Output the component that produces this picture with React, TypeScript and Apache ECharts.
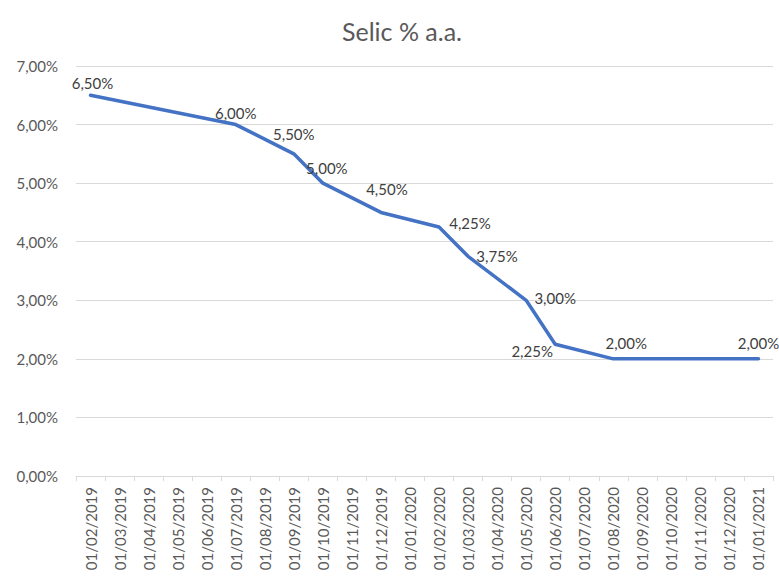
import React, { useEffect, useRef } from "react";
import * as echarts from "echarts";

const categories = [
  "01/02/2019", "01/03/2019", "01/04/2019", "01/05/2019", "01/06/2019", "01/07/2019",
  "01/08/2019", "01/09/2019", "01/10/2019", "01/11/2019", "01/12/2019", "01/01/2020",
  "01/02/2020", "01/03/2020", "01/04/2020", "01/05/2020", "01/06/2020", "01/07/2020",
  "01/08/2020", "01/09/2020", "01/10/2020", "01/11/2020", "01/12/2020", "01/01/2021",
];

const selic: (number | null)[] = [
  6.5, null, null, null, null, 6.0,
  null, 5.5, 5.0, null, 4.5, null,
  4.25, 3.75, null, 3.0, 2.25, null,
  2.0, null, null, null, null, 2.0,
];

// label offsets (px) from each point, keyed by category index
const labelOffsets: Record<number, [number, number]> = {
  0: [2, -12],
  5: [0, -12],
  7: [0, -20],
  8: [4, -15],
  10: [6, -23],
  12: [31, -4],
  13: [29, 0],
  15: [29, -2],
  16: [-23, 7],
  18: [13, -16],
  23: [0, -16],
};

const fmt = (v: number) => v.toFixed(2).replace(".", ",") + "%";
const FONT = "Lato";

export default function App() {
  const ref = useRef<HTMLDivElement>(null);
  useEffect(() => {
    if (!ref.current) return;
    const chart = echarts.init(ref.current, undefined, { renderer: "svg" });
    const data = selic.map((v, i) => {
      if (v === null) return null;
      const off = labelOffsets[i] || [0, -14];
      return {
        value: v,
        label: { offset: off },
      };
    });
    chart.setOption({
      animation: false,
      backgroundColor: "#ffffff",
      title: {
        text: "Selic % a.a.",
        left: 397,
        textAlign: "center",
        top: 13,
        textStyle: { fontFamily: FONT, fontSize: 25, fontWeight: "normal", color: "#595959" },
      },
      grid: { left: 76, right: 6, top: 66, bottom: 103, containLabel: false },
      xAxis: {
        type: "category",
        data: categories,
        boundaryGap: true,
        axisLine: { lineStyle: { color: "#d9d9d9", width: 1 } },
        axisTick: { show: true, length: 5, lineStyle: { color: "#d9d9d9" } },
        axisLabel: {
          rotate: 90,
          interval: 0,
          margin: 11,
          fontFamily: FONT,
          fontSize: 15,
          color: "#595959",
        },
        splitLine: { show: false },
      },
      yAxis: {
        type: "value",
        min: 0,
        max: 7,
        interval: 1,
        axisLine: { show: false },
        axisTick: { show: false },
        axisLabel: {
          margin: 18,
          fontFamily: FONT,
          fontSize: 15,
          color: "#595959",
          formatter: (v: number) => fmt(v),
        },
        splitLine: { lineStyle: { color: "#d9d9d9", width: 1 } },
      },
      series: [
        {
          type: "line",
          data,
          connectNulls: true,
          symbol: "circle",
          symbolSize: 1,
          showSymbol: true,
          itemStyle: { color: "#4472C4" },
          lineStyle: { color: "#4472C4", width: 3.5, join: "round", cap: "round" },
          label: {
            show: true,
            position: "inside",
            align: "center",
            verticalAlign: "middle",
            fontFamily: FONT,
            fontSize: 15,
            color: "#404040",
            formatter: (p: any) => fmt(p.value as number),
          },
        },
      ],
    });
    return () => chart.dispose();
  }, []);
  return <div ref={ref} style={{ width: 779, height: 579, position: "absolute", left: 0, top: 0 }} />;
}
